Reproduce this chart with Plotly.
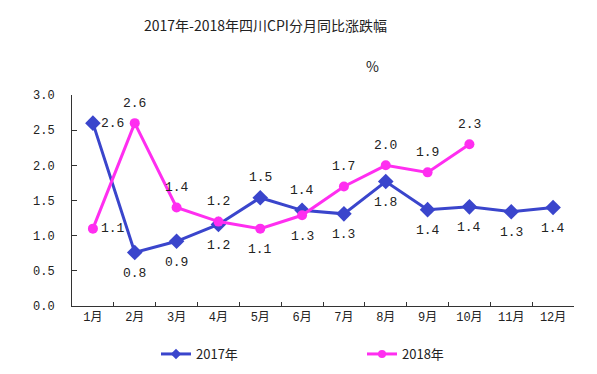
import plotly.graph_objects as go

months = ["1月", "2月", "3月", "4月", "5月", "6月", "7月", "8月", "9月", "10月", "11月", "12月"]
cpi_2017 = [2.6, 0.76, 0.92, 1.16, 1.54, 1.36, 1.31, 1.77, 1.37, 1.41, 1.34, 1.40]
cpi_2018 = [1.1, 2.6, 1.4, 1.2, 1.1, 1.29, 1.7, 2.0, 1.9, 2.3]
pos_2017 = ["right", "below", "below", "below", "above", "above", "below", "below", "below", "below", "below", "below"]
pos_2018 = ["right", "above", "above", "above", "below", "below", "above", "above", "above", "above"]
y_ticks = [0.0, 0.5, 1.0, 1.5, 2.0, 2.5, 3.0]

BLUE = "#3a45cc"
MAG = "#ff2ef0"
MONO = "Liberation Mono, DejaVu Sans Mono, Noto Sans CJK SC, monospace"
CJK = "Noto Sans CJK SC, sans-serif"

fig = go.Figure()
fig.add_trace(go.Scatter(
    x=months, y=cpi_2017, name="2017年", mode="lines+markers", showlegend=False,
    line=dict(color=BLUE, width=3),
    marker=dict(symbol="diamond", size=12, color=BLUE),
))
fig.add_trace(go.Scatter(
    x=months[:len(cpi_2018)], y=cpi_2018, name="2018年", mode="lines+markers", showlegend=False,
    line=dict(color=MAG, width=3),
    marker=dict(symbol="circle", size=10, color=MAG),
))
# legend entries (smaller symbols, as in the reference legend)
fig.add_trace(go.Scatter(x=[None], y=[None], name="2017年", mode="lines+markers",
                         line=dict(color=BLUE, width=3),
                         marker=dict(symbol="diamond", size=8, color=BLUE)))
fig.add_trace(go.Scatter(x=[None], y=[None], name="2018年", mode="lines+markers",
                         line=dict(color=MAG, width=3),
                         marker=dict(symbol="circle", size=8, color=MAG)))

annotations = []
for xs, ys, ps in [(months, cpi_2017, pos_2017), (months, cpi_2018, pos_2018)]:
    for m, v, p in zip(xs, ys, ps):
        a = dict(x=m, y=v, xref="x", yref="y", text=f"{v:.1f}", showarrow=False,
                 font=dict(family=MONO, size=13, color="#222222"))
        if p == "right":
            a.update(xanchor="left", xshift=6, yanchor="middle")
        elif p == "above":
            a.update(yshift=20)
        else:
            a.update(yshift=-21)
        annotations.append(a)

annotations.append(dict(text="2017年-2018年四川CPI分月同比涨跌幅", xref="paper", yref="paper",
                        x=(265.5 - 72) / 502, y=(306 - 25) / 211, xanchor="center", yanchor="middle",
                        showarrow=False, font=dict(family=CJK, size=14, color="#222222")))
annotations.append(dict(text="%", xref="paper", yref="paper",
                        x=(372 - 72) / 502, y=(306 - 66) / 211, xanchor="center", yanchor="middle",
                        showarrow=False, font=dict(family=CJK, size=14, color="#222222")))

fig.update_layout(
    width=597, height=374,
    margin=dict(l=72, r=23, t=95, b=68, autoexpand=False),
    paper_bgcolor="white", plot_bgcolor="white",
    showlegend=True,
    legend=dict(orientation="h", x=(156 - 72) / 502, y=(306 - 354) / 211,
                xanchor="left", yanchor="middle",
                entrywidth=161, entrywidthmode="pixels",
                font=dict(family=CJK, size=13, color="#222222")),
    annotations=annotations,
    xaxis=dict(type="category", categoryorder="array", categoryarray=months,
               range=[-0.5, 11.5], showgrid=False, zeroline=False,
               showline=True, linecolor="#333333", linewidth=1,
               ticks="inside", ticklen=4, tickcolor="#333333", tickson="boundaries",
               tickfont=dict(family=MONO, size=12, color="#222222")),
    yaxis=dict(range=[0, 3.0], tickvals=y_ticks, ticktext=[f"{t:.1f}" for t in y_ticks],
               showgrid=False, zeroline=False,
               showline=True, linecolor="#333333", linewidth=1,
               ticks="inside", ticklen=5, tickcolor="#333333",
               ticklabelstandoff=14,
               tickfont=dict(family=MONO, size=12, color="#222222")),
)

fig.write_html("out.html", config={"displayModeBar": False},
               post_script="document.body.style.margin='0';")
